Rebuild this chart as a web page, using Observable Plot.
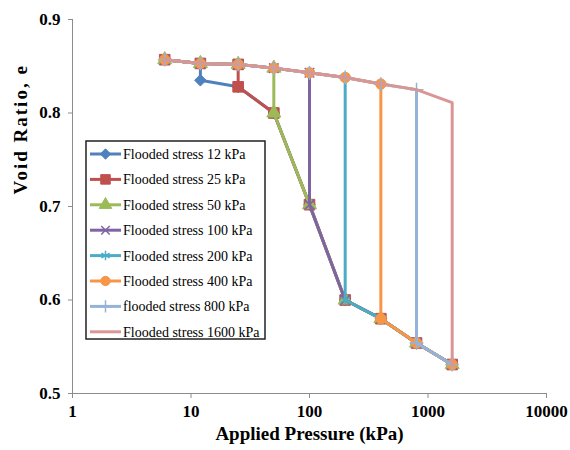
<!DOCTYPE html>
<html>
<head>
<meta charset="utf-8">
<script src="https://cdn.jsdelivr.net/npm/d3@7"></script>
<script src="https://cdn.jsdelivr.net/npm/@observablehq/plot@0.6"></script>
<style>
  body { margin: 0; background: white; }
</style>
</head>
<body>
<div id="chart"></div>
<script>
// ---- data ----
const pressures = [6, 12, 25, 50, 100, 200, 400, 800, 1600];          // kPa
const eDry      = [0.857, 0.853, 0.852, 0.848, 0.843, 0.838, 0.831, 0.825, 0.811];
const eFlooded  = [null, 0.835, 0.828, 0.800, 0.702, 0.600, 0.580, 0.554, 0.531];
const floodStress = [12, 25, 50, 100, 200, 400, 800, 1600];
const seriesNames = [
  "Flooded stress 12 kPa", "Flooded stress 25 kPa", "Flooded stress 50 kPa",
  "Flooded stress 100 kPa", "Flooded stress 200 kPa", "Flooded stress 400 kPa",
  "flooded stress 800 kPa", "Flooded stress 1600 kPa"
];
const seriesColors = ["#4F81BD", "#C0504D", "#9BBB59", "#8064A2", "#4BACC6", "#F79646", "#95B3D7", "#D99694"];
const seriesSymbols = ["diamond2", "square", "triangle", "times", "asterisk", "circle", "plus", null];
const symbolRadius = [5.2, 6, 5.2, 4.4, 5, 5.2, 4.5, 0];
const xTicks = [1, 10, 100, 1000, 10000];
const yTicks = [0.5, 0.6, 0.7, 0.8, 0.9];

// build series tables from the read values
const series = floodStress.map((fs, j) => {
  const k = pressures.indexOf(fs);
  const pts = [];
  for (let i = 0; i <= k; i++) pts.push({p: pressures[i], e: eDry[i], s: seriesNames[j]});
  pts.push({p: pressures[k], e: eFlooded[k], s: seriesNames[j]});
  for (let i = k + 1; i < pressures.length; i++) pts.push({p: pressures[i], e: eFlooded[i], s: seriesNames[j]});
  return pts;
});

const strokeSymbols = new Set(["times", "asterisk", "plus"]);
const font = "'Liberation Serif', 'Times New Roman', serif";
const axisGray = "#8c8c8c";

const marks = [];
series.forEach((pts, j) => {
  marks.push(Plot.line(pts, {x: "p", y: "e", stroke: seriesColors[j], strokeWidth: 3}));
  const sym = seriesSymbols[j];
  if (sym) {
    const isStroke = strokeSymbols.has(sym);
    marks.push(Plot.dot(pts, {
      x: "p", y: "e", symbol: sym, r: symbolRadius[j],
      fill: isStroke ? "none" : seriesColors[j],
      stroke: seriesColors[j], strokeWidth: isStroke ? 1.5 : 1
    }));
  }
});

const chart = Plot.plot({
  width: 570,
  height: 450,
  marginLeft: 72,
  marginRight: 24,
  marginTop: 19,
  marginBottom: 57,
  style: {fontFamily: font, background: "white", color: "black", overflow: "visible"},
  x: {type: "log", domain: [1, 10000], axis: null},
  y: {domain: [0.5, 0.9], axis: null},
  marks: [
    Plot.ruleX([1], {stroke: axisGray, strokeWidth: 1}),
    Plot.ruleY([0.5], {stroke: axisGray, strokeWidth: 1}),
    Plot.axisX({ticks: xTicks, tickFormat: d => String(d), tickSize: 5, tickPadding: 6,
      stroke: axisGray, fill: "black", fontSize: 17, fontWeight: "bold", label: null}),
    Plot.axisY({ticks: yTicks, tickFormat: d3.format(".1f"), tickSize: 4, tickPadding: 8,
      stroke: axisGray, fill: "black", fontSize: 17, fontWeight: "bold", label: null}),
    Plot.text(["Applied Pressure (kPa)"], {text: d => d, frameAnchor: "bottom", dy: 46,
      fontSize: 19, fontWeight: "bold", fill: "black"}),
    Plot.text(["Void Ratio, e"], {text: d => d, frameAnchor: "left", dx: -52, dy: -12, rotate: -90,
      fontSize: 19, fontWeight: "bold", fill: "black"}),
    ...marks
  ]
});

// legend inside the plot area
const svg = d3.select(chart);
svg.selectAll("text").filter(function() { return this.textContent === "Void Ratio, e"; })
  .style("letter-spacing", "2px");
const lg = svg.append("g").attr("transform", "translate(86,141)").attr("text-anchor", "start");
lg.append("rect").attr("x", 0).attr("y", 0).attr("width", 179).attr("height", 198)
  .attr("fill", "white").attr("stroke", "#222").attr("stroke-width", 1.5);
seriesNames.forEach((name, j) => {
  const cy = 13 + j * 25.4;
  const row = lg.append("g").attr("transform", `translate(0,${cy})`);
  row.append("line").attr("x1", 4).attr("x2", 35).attr("y1", 0).attr("y2", 0)
    .attr("stroke", seriesColors[j]).attr("stroke-width", 3);
  const sym = seriesSymbols[j];
  if (sym) {
    const map = {diamond2: d3.symbolDiamond2, square: d3.symbolSquare, triangle: d3.symbolTriangle,
      times: d3.symbolTimes, asterisk: d3.symbolAsterisk, circle: d3.symbolCircle, plus: d3.symbolPlus};
    const isStroke = strokeSymbols.has(sym);
    const size = Math.PI * symbolRadius[j] * symbolRadius[j] * 0.8;
    row.append("path").attr("transform", "translate(19.5,0)")
      .attr("d", d3.symbol(map[sym], size)())
      .attr("fill", isStroke ? "none" : seriesColors[j])
      .attr("stroke", seriesColors[j]).attr("stroke-width", isStroke ? 1.5 : 1);
  }
  row.append("text").attr("x", 37).attr("y", 0).attr("dy", "0.35em")
    .attr("text-anchor", "start")
    .attr("font-size", 14).attr("font-family", font).attr("fill", "black").text(name);
});

document.getElementById("chart").appendChild(chart);
</script>
</body>
</html>
